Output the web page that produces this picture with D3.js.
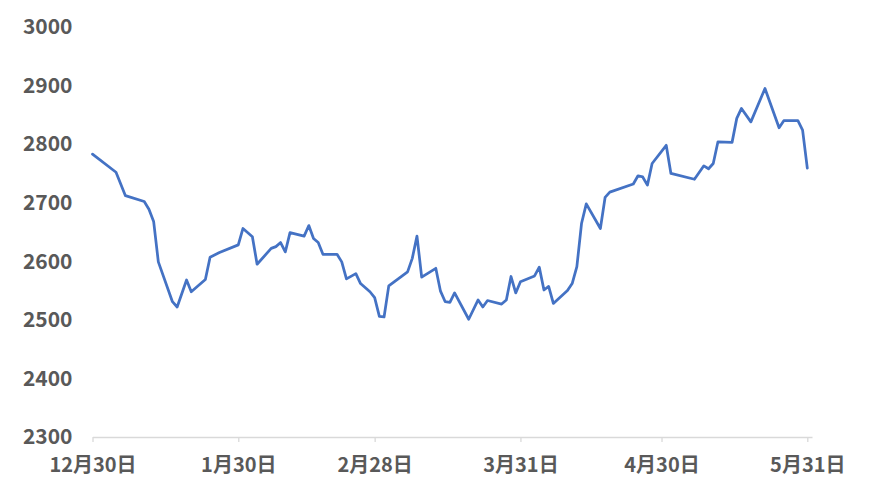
<!DOCTYPE html>
<html>
<head>
<meta charset="utf-8">
<script src="https://cdn.jsdelivr.net/npm/d3@7"></script>
<style>
  body { margin: 0; background: #fff; }
  text { font-family: "Noto Sans CJK JP", "Noto Sans", sans-serif; }
</style>
</head>
<body>
<svg id="chart"></svg>
<script>
var WIDTH = 870;
var HEIGHT = 491;

// trading dates and closing values
var dates = [
    '2016-12-30', '2017-01-04', '2017-01-06', '2017-01-10', '2017-01-11', '2017-01-12', '2017-01-13',
    '2017-01-16', '2017-01-17', '2017-01-19', '2017-01-20', '2017-01-23', '2017-01-24', '2017-01-26',
    '2017-01-30', '2017-01-31', '2017-02-02', '2017-02-03', '2017-02-06', '2017-02-07', '2017-02-08',
    '2017-02-09', '2017-02-10', '2017-02-13', '2017-02-14', '2017-02-15', '2017-02-16', '2017-02-17',
    '2017-02-20', '2017-02-21', '2017-02-22', '2017-02-24', '2017-02-25', '2017-02-27', '2017-02-28',
    '2017-03-01', '2017-03-02', '2017-03-03', '2017-03-07', '2017-03-08', '2017-03-09', '2017-03-10',
    '2017-03-13', '2017-03-14', '2017-03-15', '2017-03-16', '2017-03-17', '2017-03-20', '2017-03-22',
    '2017-03-23', '2017-03-24', '2017-03-27', '2017-03-28', '2017-03-29', '2017-03-30', '2017-03-31',
    '2017-04-03', '2017-04-04', '2017-04-05', '2017-04-06', '2017-04-07', '2017-04-10', '2017-04-11',
    '2017-04-12', '2017-04-13', '2017-04-14', '2017-04-17', '2017-04-18', '2017-04-19', '2017-04-24',
    '2017-04-25', '2017-04-26', '2017-04-27', '2017-04-28', '2017-05-01', '2017-05-02', '2017-05-07',
    '2017-05-09', '2017-05-10', '2017-05-11', '2017-05-12', '2017-05-15', '2017-05-16', '2017-05-17',
    '2017-05-19', '2017-05-22', '2017-05-25', '2017-05-26', '2017-05-29', '2017-05-30', '2017-05-31'
];
var values = [
    2783, 2752, 2712, 2702, 2689, 2668, 2599,
    2531, 2522, 2568, 2548, 2569, 2607, 2615,
    2628, 2656, 2642, 2595, 2622, 2625, 2632,
    2616, 2649, 2643, 2661, 2639, 2632, 2612,
    2612, 2599, 2570, 2579, 2562, 2548, 2538,
    2506, 2505, 2558, 2582, 2605, 2643, 2573,
    2588, 2549, 2531, 2530, 2546, 2501, 2534,
    2522, 2533, 2527, 2534, 2574, 2546, 2565,
    2575, 2590, 2551, 2557, 2528, 2550, 2562,
    2591, 2665, 2698, 2656, 2709, 2718, 2732,
    2746, 2744, 2730, 2767, 2798, 2750, 2740,
    2763, 2758, 2767, 2804, 2803, 2844, 2861,
    2838, 2895, 2828, 2840, 2840, 2824, 2759
];

var tickDates = ['2016-12-30', '2017-01-30', '2017-02-28', '2017-03-31', '2017-04-30', '2017-05-31'];
var tickLabels = ['12月30日', '1月30日', '2月28日', '3月31日', '4月30日', '5月31日'];
var yTicks = [2300, 2400, 2500, 2600, 2700, 2800, 2900, 3000];

var parseDate = d3.timeParse('%Y-%m-%d');

var points = dates.map(function(d, i){
    return { date: parseDate(d), value: values[i] };
});

var svg = d3.select('#chart')
    .attr('width', WIDTH)
    .attr('height', HEIGHT);

var xScale = d3.scaleTime()
    .domain([parseDate('2016-12-30'), parseDate('2017-06-01')])
    .range([92.5, 812]);

var yScale = d3.scaleLinear()
    .domain([2300, 3000])
    .range([437, 27]);

var bottomAxis = d3.axisBottom(xScale)
    .tickValues(tickDates.map(parseDate))
    .tickFormat(function(d, i){ return tickLabels[i]; })
    .tickSizeInner(5)
    .tickSizeOuter(0)
    .tickPadding(16);

var leftAxis = d3.axisLeft(yScale)
    .tickValues(yTicks)
    .tickFormat(d3.format('d'))
    .tickSize(0)
    .tickPadding(20);

var xAxisG = svg.append('g')
    .attr('id', 'x-axis')
    .attr('transform', 'translate(0,' + yScale(2300) + ')')
    .call(bottomAxis);
xAxisG.select('.domain').attr('stroke', '#d9d9d9').attr('stroke-width', 1.3);
xAxisG.selectAll('.tick line').attr('stroke', '#d9d9d9').attr('stroke-width', 1.3);
xAxisG.selectAll('.tick text')
    .attr('fill', '#595959')
    .style('font-size', '20px')
    .style('font-weight', 'bold');

var yAxisG = svg.append('g')
    .attr('id', 'y-axis')
    .attr('transform', 'translate(' + 92.5 + ',0)')
    .call(leftAxis);
yAxisG.select('.domain').remove();
yAxisG.selectAll('.tick text')
    .attr('fill', '#595959')
    .style('font-size', '21px')
    .style('font-weight', 'bold');

var line = d3.line()
    .x(function(d){ return xScale(d.date); })
    .y(function(d){ return yScale(d.value); });

svg.append('path')
    .datum(points)
    .attr('fill', 'none')
    .attr('stroke', '#4472c4')
    .attr('stroke-width', 2.75)
    .attr('stroke-linejoin', 'round')
    .attr('stroke-linecap', 'round')
    .attr('d', line);
</script>
</body>
</html>
